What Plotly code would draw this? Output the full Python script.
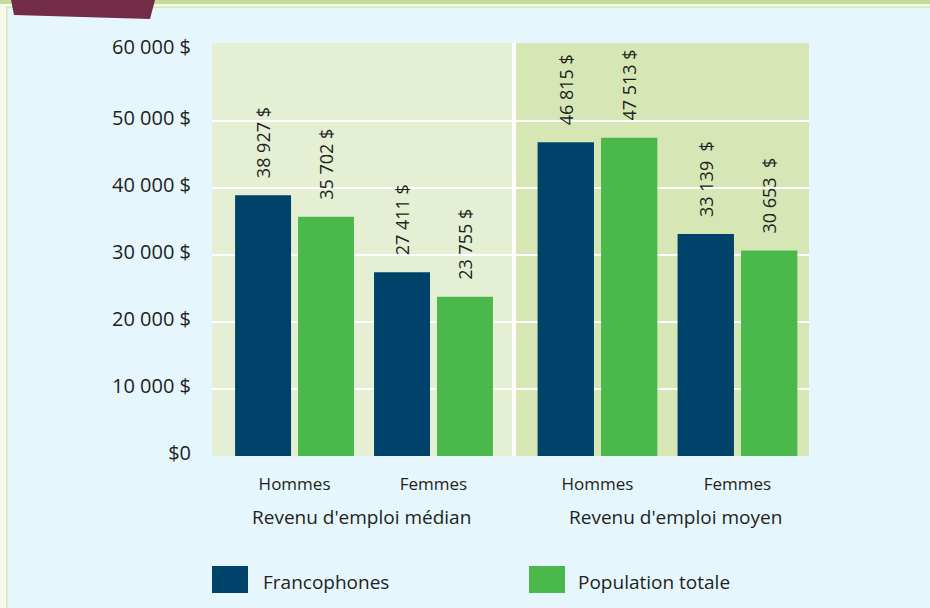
import plotly.graph_objects as go

# ---- data ----
categories = ["Hommes", "Femmes"]
groups = ["Revenu d'emploi médian", "Revenu d'emploi moyen"]
series_names = ["Francophones", "Population totale"]
franco_median = [38927, 27411]
total_median = [35702, 23755]
franco_moyen = [46815, 33139]
total_moyen = [47513, 30653]
labels_franco_median = ["38 927 $", "27 411 $"]
labels_total_median = ["35 702 $", "23 755 $"]
labels_franco_moyen = ["46 815 $", "33 139  $"]
labels_total_moyen = ["47 513 $", "30 653  $"]
y_tickvals = [0, 10000, 20000, 30000, 40000, 50000]
y_ticktext = ["$0", "10 000 $", "20 000 $", "30 000 $", "40 000 $", "50 000 $"]
y_top_tickval = [60000]
y_top_ticktext = ["60 000 $"]

# ---- styles ----
NAVY = "#00436a"
GREEN = "#4bb84b"
BG = "#e5f6fd"
LEFT_BG = "#e4efd4"
RIGHT_BG = "#d6e6b5"
TXT = "#231f20"
FONT = "Open Sans"
PAD = "\u00a0\u00a0\u00a0"
Y_RANGE = [0, 61640]

W, H = 930, 608
L, R, T, B = 212, 121, 43, 152
PW = W - L - R
PH = H - T - B


def px_x(p):
    return (p - L) / PW


def px_y(p):
    return (H - B - p) / PH


def bar(x, y, text, color, name, xaxis):
    return go.Bar(
        x=x, y=y, name=name, marker=dict(color=color, line=dict(width=0)),
        text=[PAD + t.replace("  ", "\u00a0\u00a0") for t in text],
        textposition="outside", textangle=-90, constraintext="none",
        cliponaxis=False,
        textfont=dict(family=FONT, size=18, color=TXT),
        xaxis=xaxis, yaxis="y", showlegend=False, hoverinfo="skip",
    )


fig = go.Figure()
fig.add_trace(bar(categories, franco_median, labels_franco_median, NAVY, series_names[0], "x"))
fig.add_trace(bar(categories, total_median, labels_total_median, GREEN, series_names[1], "x"))
fig.add_trace(bar(categories, franco_moyen, labels_franco_moyen, NAVY, series_names[0], "x2"))
fig.add_trace(bar(categories, total_moyen, labels_total_moyen, GREEN, series_names[1], "x2"))

xcommon = dict(
    type="category", showgrid=False, zeroline=False, showline=False, ticks="",
    tickfont=dict(family=FONT, size=17, color=TXT), ticklabelstandoff=16,
    fixedrange=True,
)
ycommon = dict(range=Y_RANGE, zeroline=False, showline=False, ticks="",
               ticklabelstandoff=20,
               tickfont=dict(family=FONT, size=20, color=TXT), fixedrange=True)

fig.update_layout(
    width=W, height=H,
    margin=dict(l=L, r=R, t=T, b=B),
    paper_bgcolor=BG, plot_bgcolor=LEFT_BG,
    barmode="group", bargap=0.094, bargroupgap=0.111,
    xaxis=dict(domain=[0, 300 / PW], range=[-0.594, 1.565], anchor="y", **xcommon),
    xaxis2=dict(domain=[304 / PW, 1], range=[-0.582, 1.511], anchor="y", **xcommon),
    yaxis=dict(tickvals=y_tickvals, ticktext=y_ticktext, ticklabelshift=-3,
               showgrid=True, gridcolor="white", gridwidth=2, **ycommon),
    yaxis2=dict(tickvals=y_top_tickval, ticktext=y_top_ticktext, overlaying="y",
                side="left", showgrid=False, ticklabelshift=-7, **ycommon),
    showlegend=False,
)
# invisible trace so that the second y axis is drawn
fig.add_trace(go.Scatter(x=[categories[0]], y=[y_top_tickval[0]], xaxis="x", yaxis="y2",
                         mode="markers", marker=dict(opacity=0), showlegend=False,
                         hoverinfo="skip"))

shapes = [
    # right panel background
    dict(type="rect", xref="x2 domain", yref="y domain", x0=0, x1=1, y0=0, y1=1,
         fillcolor=RIGHT_BG, line=dict(width=0), layer="below"),
    # white divider between panels
    dict(type="rect", xref="paper", yref="paper", x0=300 / PW, x1=304 / PW, y0=0, y1=1,
         fillcolor="white", line=dict(width=0), layer="above"),
    # top decorative bands
    dict(type="rect", xref="paper", yref="paper", x0=px_x(0), x1=px_x(W), y0=px_y(4), y1=px_y(0),
         fillcolor="#c6dc9e", line=dict(width=0)),
    dict(type="rect", xref="paper", yref="paper", x0=px_x(0), x1=px_x(W), y0=px_y(7), y1=px_y(4),
         fillcolor="#f4f9ea", line=dict(width=0)),
    dict(type="rect", xref="paper", yref="paper", x0=px_x(6), x1=px_x(W), y0=px_y(8), y1=px_y(6.5),
         fillcolor="#d6e8b8", line=dict(width=0)),
    dict(type="rect", xref="paper", yref="paper", x0=px_x(0), x1=px_x(6), y0=px_y(H), y1=px_y(7),
         fillcolor="#f4f9ea", line=dict(width=0)),
    dict(type="rect", xref="paper", yref="paper", x0=px_x(6), x1=px_x(7.5), y0=px_y(H), y1=px_y(7),
         fillcolor="#d6e8b8", line=dict(width=0)),
    # maroon tab
    dict(type="path", xref="paper", yref="paper",
         path=f"M {px_x(11)},{px_y(0)} L {px_x(14)},{px_y(15)} L {px_x(150)},{px_y(19)} L {px_x(155)},{px_y(0)} Z",
         fillcolor="#722c45", line=dict(width=0)),
    # legend swatches
    dict(type="rect", xref="paper", yref="paper", x0=px_x(212), x1=px_x(248), y0=px_y(593), y1=px_y(566),
         fillcolor=NAVY, line=dict(width=0)),
    dict(type="rect", xref="paper", yref="paper", x0=px_x(529), x1=px_x(565), y0=px_y(593), y1=px_y(566),
         fillcolor=GREEN, line=dict(width=0)),
]
fig.update_layout(shapes=shapes)

# group titles
fig.add_annotation(xref="x domain", yref="paper", x=0.497, y=px_y(517), text=groups[0],
                   showarrow=False, xanchor="center", yanchor="middle",
                   font=dict(family=FONT, size=19, color=TXT))
fig.add_annotation(xref="x2 domain", yref="paper", x=0.546, y=px_y(517), text=groups[1],
                   showarrow=False, xanchor="center", yanchor="middle",
                   font=dict(family=FONT, size=19, color=TXT))

# legend
fig.add_annotation(xref="paper", yref="paper", x=px_x(261), y=px_y(582), text=series_names[0],
                   showarrow=False, xanchor="left", yanchor="middle",
                   font=dict(family=FONT, size=19, color=TXT))
fig.add_annotation(xref="paper", yref="paper", x=px_x(576), y=px_y(582), text=series_names[1],
                   showarrow=False, xanchor="left", yanchor="middle",
                   font=dict(family=FONT, size=19, color=TXT))

fig.write_html("out.html", config={"displayModeBar": False},
               post_script="document.body.style.margin='0';document.body.style.overflow='hidden';")
